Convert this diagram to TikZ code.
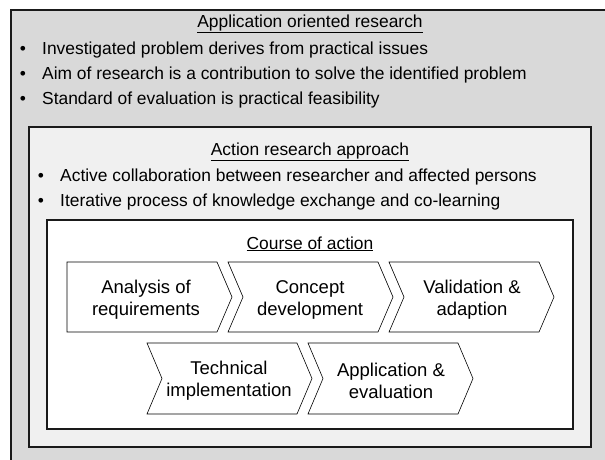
\documentclass[tikz,border=0pt]{standalone}
\usepackage{fontspec}
\setmainfont{Liberation Sans}
\definecolor{outerfill}{HTML}{D9D9D9}
\definecolor{midfill}{HTML}{F0F0F0}
\definecolor{edge}{HTML}{1A1A1A}
\begin{document}
\begin{tikzpicture}[x=1pt,y=-1pt,
  box/.style={draw=edge, line width=1.4pt},
  chev/.style={draw=black, line width=0.6pt, fill=white},
  ttl/.style={font=\fontsize{17.4}{21}\selectfont, anchor=base, inner sep=0pt},
  blt/.style={font=\fontsize{17.4}{21}\selectfont, anchor=base west, inner sep=0pt},
  dot/.style={font=\fontsize{17.4}{21}\selectfont, anchor=base, inner sep=0pt},
  ctext/.style={font=\fontsize{18.5}{22}\selectfont, align=center, inner sep=0pt}]
\useasboundingbox (0,0) rectangle (605,459);
\clip (0,0) rectangle (605,459);
% outer box
\draw[box, fill=outerfill] (11,10) rectangle (630,480);
\node[ttl] (t1) at (310,27) {\underline{Application oriented research}};
\node[dot] (d1) at (23,54) {•};
\node[blt] (b1) at (42,54) {Investigated problem derives from practical issues};
\node[dot] (d2) at (23,79) {•};
\node[blt] (b2) at (42,79) {Aim of research is a contribution to solve the identified problem};
\node[dot] (d3) at (23,104) {•};
\node[blt] (b3) at (42,104) {Standard of evaluation is practical feasibility};
% middle box
\draw[box, fill=midfill] (29,127) rectangle (591,447);
\node[ttl] (t2) at (310,155) {\underline{Action research approach}};
\node[dot] (d4) at (41,181) {•};
\node[blt] (b4) at (60,181) {Active collaboration between researcher and affected persons};
\node[dot] (d5) at (41,206) {•};
\node[blt] (b5) at (60,206) {Iterative process of knowledge exchange and co-learning};
% inner box
\draw[box, fill=white] (47,220) rectangle (573,429);
\node[ttl] (t3) at (310,249) {\underline{Course of action}};
% chevrons row 1
\draw[chev] (67,262) -- (217,262) -- (232,297) -- (217,332) -- (67,332) -- cycle;
\node[ctext] (c1) at (146,300) {Analysis of\\requirements};
\draw[chev] (228,262) -- (378,262) -- (393,297) -- (378,332) -- (228,332) -- (243,297) -- cycle;
\node[ctext] (c2) at (310,300) {Concept\\development};
\draw[chev] (389,262) -- (539,262) -- (554,297) -- (539,332) -- (389,332) -- (404,297) -- cycle;
\node[ctext] (c3) at (472,300) {Validation \&\\adaption};
% chevrons row 2
\draw[chev] (147,343) -- (297,343) -- (312,378.5) -- (297,414) -- (147,414) -- (162,378.5) -- cycle;
\node[ctext] (c4) at (229,381) {Technical\\implementation};
\draw[chev] (308,343) -- (458,343) -- (473,378.5) -- (458,414) -- (308,414) -- (323,378.5) -- cycle;
\node[ctext] (c5) at (391,381) {Application \&\\evaluation};
\end{tikzpicture}
\end{document}
